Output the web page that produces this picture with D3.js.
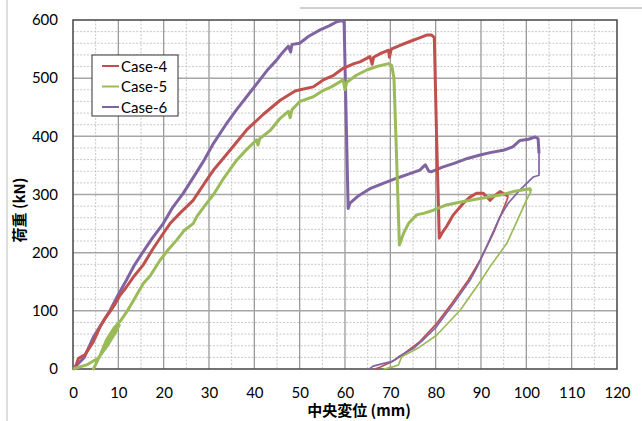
<!DOCTYPE html>
<html>
<head>
<meta charset="utf-8">
<script src="https://cdn.jsdelivr.net/npm/d3@7"></script>
<style>
  body { margin: 0; background: #fff; }
  svg { display: block; font-family: Lato, "Open Sans", sans-serif; }
</style>
</head>
<body>
<svg id="chart" width="642" height="421"></svg>
<script>
// displacement (mm), load (kN)
const case4Loading = [[0,0],[0.4,1],[1.2,18],[2,22],[2.6,24],[3.5,35],[4.5,47],[6,73],[7,86],[8.2,99],[9.3,112],[10.4,127],
  [11.8,141],[13.5,160],[15.5,179],[17.5,205],[19.9,233],[21.4,250],[23.6,268],[26.5,290],[29.5,325],[31,342],[34,370],
  [38.3,411],[42,438],[45.7,462],[49,478],[50.1,480],[53,485],[55.2,497],[57.5,505],[59.6,517],[62,525],[63.3,528],
  [65.5,537],[66,524],[66.3,536],[68,543],[69.6,548],[69.8,536],[70.2,550],[72,556],[74.3,563],[76,568],[78,574],
  [79.1,574],[79.7,570],[80.2,400],[80.8,225],[81.5,235],[82.4,245],[83.9,265],[86.1,285],[87.5,295],[89,302],
  [90.5,302],[92,290],[93,298],[94.2,305],[95.3,300],[96,297]];
const case4Unloading = [[96,297],[95.7,290],[92.7,233],[89.8,187],[87.2,153],[83.5,112],[80.2,78],[76.5,47],
  [72.1,21],[70.3,12.6],[67.7,3],[66.6,0]];

const case5Loading = [[0,0],[3,7],[5.6,19],[7.4,38],[9.3,62],[10.2,75],[8,50],[6,24],[4.5,0],[6,24],[7.4,50],[9,70],
  [10.4,82],[12,100],[13.5,120],[15.5,147],[17,160],[19.2,187],[21,205],[22.9,222],[24.5,238],[26.5,250],[27.3,262],
  [29,280],[31,300],[33,325],[36.1,359],[38,375],[40.5,394],[40.8,385],[41.2,396],[43.5,410],[45.7,431],[47.5,443],
  [47.9,432],[48.3,446],[50.1,460],[53,468],[55,478],[57,485],[59.6,497],[60,480],[60.4,493],[62.5,505],[64.8,514],
  [67,520],[69.6,525],[70.3,522],[70.8,500],[71.4,359],[72,213],[72.9,233],[74,250],[75.8,265],[77.5,268],[79.5,273],
  [82.4,282],[86.1,288],[89.8,293],[94.2,299],[97.1,305],[100.8,310],[101,305]];
const case5Unloading = [[101,305],[100,290],[98,255],[95.7,216],[92,176],[90.1,153],[85.4,101],[80.2,58],[76.5,38],
  [74.7,30],[72.5,21],[71.8,7],[70.7,4],[69.2,1],[68.5,0]];

const case6Loading = [[0,0],[2.5,20],[4.5,55],[6.5,80],[8.2,101],[10,128],[11.8,153],[13.5,178],[15.5,202],[17.5,225],
  [19.9,250],[22,278],[24.3,302],[27,335],[29,360],[31,388],[33.7,420],[36,445],[38.3,468],[41,495],[43,515],[44.9,531],
  [46,542],[47.5,555],[48,545],[48.3,558],[50,560],[52,572],[54.5,583],[56.5,590],[58.2,597],[59.3,599],[59.8,596],
  [60.2,450],[60.7,276],[61.1,285],[63,298],[65.5,310],[68,318],[71.4,328],[74,335],[76.5,342],[77.7,351],[78.5,340],
  [79,339],[81.5,347],[83.9,353],[87,362],[89.8,368],[92,372],[94.9,376],[97,382],[98.6,393],[100.5,395],[102,399],
  [102.6,396],[102.8,370]];
const case6Unloading = [[102.8,370],[102.8,333],[101.5,330],[98.6,308],[96,285],[94.2,262],[91.5,215],[89,173],
  [87.6,153],[84,113],[80.2,73],[77.5,52],[75.1,35.5],[71.8,21],[71.4,18],[70.3,12.6],[68.8,10],[66.2,5],[65.5,1],[65.3,0]];

const seriesNames = ['Case-4', 'Case-5', 'Case-6'];
const seriesColors = ['#c0504d', '#9bbb59', '#8064a2'];
const xTicks = [0, 10, 20, 30, 40, 50, 60, 70, 80, 90, 100, 110, 120];
const yTicks = [0, 100, 200, 300, 400, 500, 600];

const svg = d3.select('#chart');
const x = d3.scaleLinear().domain([0, 120]).range([73, 617]);
const y = d3.scaleLinear().domain([0, 600]).range([369, 20]);

// outer chart frame (only partly visible)
svg.append('line').attr('x1', 7).attr('x2', 7).attr('y1', 0).attr('y2', 421)
    .attr('stroke', '#bdbdbd').attr('stroke-width', 1);
svg.append('line').attr('x1', 300).attr('x2', 642).attr('y1', 8).attr('y2', 8)
    .attr('stroke', '#a0a0a0').attr('stroke-width', 1);

// minor grid
const grid = svg.append('g');
grid.selectAll('.vminor').data(d3.range(5, 120, 10)).join('line')
    .attr('x1', d => x(d)).attr('x2', d => x(d)).attr('y1', y(600)).attr('y2', y(0))
    .attr('stroke', '#c8c8c8').attr('stroke-dasharray', '2,1.5');
grid.selectAll('.hminor').data(d3.range(20, 600, 20).filter(d => d % 100 != 0)).join('line')
    .attr('x1', x(0)).attr('x2', x(120)).attr('y1', d => y(d)).attr('y2', d => y(d))
    .attr('stroke', '#c8c8c8').attr('stroke-dasharray', '2,1.5');

// major grid
grid.selectAll('.vmajor').data(xTicks.slice(1, -1)).join('line')
    .attr('x1', d => x(d)).attr('x2', d => x(d)).attr('y1', y(600)).attr('y2', y(0))
    .attr('stroke', '#9a9a9a').attr('stroke-width', 1.3);
grid.selectAll('.hmajor').data(yTicks.slice(1, -1)).join('line')
    .attr('x1', x(0)).attr('x2', x(120)).attr('y1', d => y(d)).attr('y2', d => y(d))
    .attr('stroke', '#a6a6a6').attr('stroke-width', 1.5);

// plot frame
svg.append('rect').attr('x', x(0)).attr('y', y(600))
    .attr('width', x(120) - x(0)).attr('height', y(0) - y(600))
    .attr('fill', 'none').attr('stroke', '#505050').attr('stroke-width', 1.6);

// axes
const xAxis = svg.append('g').attr('transform', `translate(0,${y(0)})`)
    .call(d3.axisBottom(x).tickValues(xTicks).tickSize(0).tickPadding(18));
const yAxis = svg.append('g').attr('transform', `translate(${x(0)},0)`)
    .call(d3.axisLeft(y).tickValues(yTicks).tickSize(0).tickPadding(15));
[xAxis, yAxis].forEach(a => {
    a.select('.domain').remove();
    a.selectAll('text').attr('font-family', 'Lato, sans-serif').attr('font-size', 15).attr('fill', '#000');
});

// curves
const line = d3.line().x(d => x(d[0])).y(d => y(d[1]));
const curves = svg.append('g').attr('fill', 'none').attr('stroke-linejoin', 'round');
[[case4Unloading, 0], [case5Unloading, 1], [case6Unloading, 2]].forEach(([data, i]) => {
    curves.append('path').attr('d', line(data))
        .attr('stroke', seriesColors[i]).attr('stroke-width', 1.7);
});
[[case6Loading, 2], [case4Loading, 0], [case5Loading, 1]].forEach(([data, i]) => {
    curves.append('path').attr('d', line(data))
        .attr('stroke', seriesColors[i]).attr('stroke-width', 3);
});

// legend
const legend = svg.append('g');
legend.append('rect').attr('x', 92).attr('y', 55).attr('width', 86).attr('height', 61)
    .attr('fill', '#fff').attr('stroke', '#333').attr('stroke-width', 1);
seriesNames.forEach((name, i) => {
    let ly = 66 + i * 20.5;
    legend.append('line').attr('x1', 102).attr('x2', 119).attr('y1', ly).attr('y2', ly)
        .attr('stroke', seriesColors[i]).attr('stroke-width', 2);
    legend.append('text').attr('x', 121).attr('y', ly + 5.5)
        .attr('font-size', 15).text(name);
});

// axis titles
svg.append('text').attr('x', 359).attr('y', 416).attr('text-anchor', 'middle')
    .attr('font-family', '"Noto Sans CJK JP", sans-serif').attr('font-weight', 'bold').attr('font-size', 15)
    .text('中央変位 (mm)');
svg.append('text').attr('transform', 'translate(25,210) rotate(-90)').attr('text-anchor', 'middle')
    .attr('font-family', '"Noto Sans CJK JP", sans-serif').attr('font-weight', 'bold').attr('font-size', 15)
    .text('荷重 (kN)');
</script>
</body>
</html>
